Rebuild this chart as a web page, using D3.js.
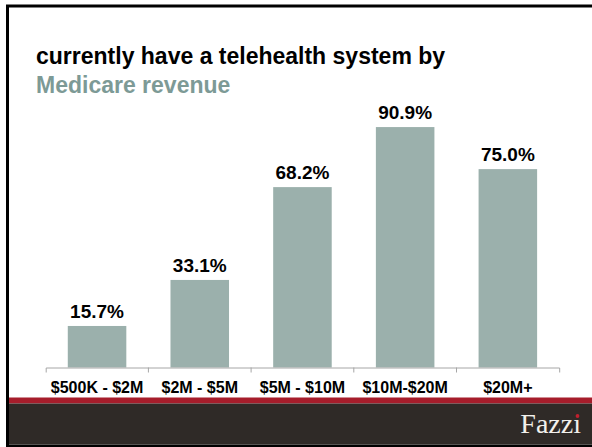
<!DOCTYPE html>
<html>
<head>
<meta charset="utf-8">
<script src="https://cdn.jsdelivr.net/npm/d3@7"></script>
<style>
  html, body { margin: 0; padding: 0; background: #fff; }
  svg { display: block; }
</style>
</head>
<body>
<svg id="chart" width="592" height="447"></svg>
<script>
// Share of organisations that currently have a telehealth system, by Medicare revenue band
const categories = ["$500K - $2M", "$2M - $5M", "$5M - $10M", "$10M-$20M", "$20M+"];
const values = [15.7, 33.1, 68.2, 90.9, 75.0];
const titleLines = ["currently have a telehealth system by", "Medicare revenue"];
const brand = "Fazzi";

const W = 592, H = 447;
const SANS = "'Liberation Sans', Arial, sans-serif";
const SERIF = "'Liberation Serif', 'Times New Roman', serif";
const svg = d3.select("#chart");

// Slide frame
svg.append("rect")
  .attr("x", 7.5).attr("y", 6)
  .attr("width", 700).attr("height", 440)
  .attr("fill", "#fff")
  .attr("stroke", "#000").attr("stroke-width", 3);

// Title
svg.append("text")
  .attr("x", 36).attr("y", 64)
  .style("font-family", SANS)
  .attr("font-size", 23).attr("font-weight", "bold")
  .attr("fill", "#000")
  .text(titleLines[0]);
svg.append("text")
  .attr("x", 36).attr("y", 92.5)
  .style("font-family", SANS)
  .attr("font-size", 23).attr("font-weight", "bold")
  .attr("fill", "#7d9a96")
  .text(titleLines[1]);

// Scales
const x = d3.scaleBand()
  .domain(categories)
  .range([45.7, 559.2])
  .paddingInner(0.43)
  .paddingOuter(0.215);

const y = d3.scaleLinear()
  .domain([0, 100])
  .range([367.5, 103]);

// Bars
svg.append("g")
  .selectAll("rect")
  .data(values)
  .join("rect")
  .attr("x", (d, i) => x(categories[i]))
  .attr("y", d => y(d))
  .attr("width", x.bandwidth())
  .attr("height", d => y(0) - y(d))
  .attr("fill", "#9bb0ac");

// Value labels
svg.append("g")
  .selectAll("text")
  .data(values)
  .join("text")
  .attr("x", (d, i) => x(categories[i]) + x.bandwidth() / 2)
  .attr("y", d => y(d) - 8)
  .attr("text-anchor", "middle")
  .style("font-family", SANS)
  .attr("font-size", 19).attr("font-weight", "bold")
  .attr("fill", "#000")
  .text(d => d.toFixed(1) + "%");

// Category axis
const axis = svg.append("g")
  .attr("transform", `translate(0,${y(0)})`)
  .call(d3.axisBottom(x).tickSize(0).tickSizeOuter(5).tickPadding(14));
axis.select(".domain").attr("stroke", "#a6a6a6").attr("stroke-width", 1);
axis.selectAll(".tick text")
  .style("font-family", SANS)
  .attr("font-size", 16).attr("font-weight", "bold")
  .attr("fill", "#000");

// Separators between category bands
const bounds = d3.range(1, categories.length).map(i => x.range()[0] + i * x.step());
axis.selectAll("line.sep")
  .data(bounds)
  .join("line")
  .attr("class", "sep")
  .attr("x1", d => d).attr("x2", d => d)
  .attr("y1", 0).attr("y2", 5)
  .attr("stroke", "#a6a6a6").attr("stroke-width", 1);

// Footer band
svg.append("rect")
  .attr("x", 9).attr("y", 397.5)
  .attr("width", W - 9).attr("height", 6)
  .attr("fill", "#a61d2b");
svg.append("rect")
  .attr("x", 9).attr("y", 403.5)
  .attr("width", W - 9).attr("height", 41)
  .attr("fill", "#2f2a27");

// Brand wordmark, with a red dot over the final letter
svg.append("text")
  .attr("x", 581).attr("y", 432.5)
  .attr("text-anchor", "end")
  .style("font-family", SERIF)
  .attr("font-size", 28)
  .attr("fill", "#f2f0ec")
  .text(brand.slice(0, -1) + "\u0131");
svg.append("circle")
  .attr("cx", 577.5).attr("cy", 416)
  .attr("r", 1.9)
  .attr("fill", "#c0202e");
</script>
</body>
</html>
